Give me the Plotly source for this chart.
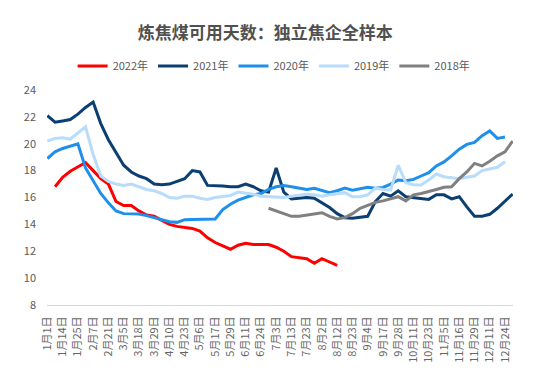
import plotly.graph_objects as go

tick_labels = ["1月1日", "1月14日", "1月25日", "2月7日", "2月21日", "3月5日", "3月18日", "3月29日",
               "4月10日", "4月23日", "5月6日", "5月17日", "5月29日", "6月11日", "6月24日", "7月3日",
               "7月13日", "7月23日", "8月2日", "8月12日", "8月23日", "9月4日", "9月17日", "9月28日",
               "10月11日", "10月23日", "11月5日", "11月16日", "11月29日", "12月11日", "12月24日"]

n_cat = 62
categories = list(range(n_cat))
tick_positions = list(range(0, 61, 2))

s2022 = [None, 16.8, 17.5, 17.95, 18.3, 18.6, 18.0, 17.4, 17.0, 15.7,
         15.4, 15.4, 15.0, 14.7, 14.6, 14.3, 14.0, 13.85, 13.8, 13.7,
         13.5, 13.0, 12.65, 12.4, 12.15, 12.45, 12.6, 12.5, 12.5, 12.5,
         12.3, 12.0, 11.6, 11.55, 11.45, 11.1, 11.45, 11.2, 10.95]
s2021 = [22.1, 21.6, 21.7, 21.8, 22.2, 22.7, 23.1, 21.5, 20.3, 19.4,
         18.4, 17.9, 17.6, 17.4, 17.0, 16.95, 17.0, 17.2, 17.4, 18.0,
         17.9, 16.9, 16.9, 16.85, 16.8, 16.8, 17.0, 16.8, 16.5, 16.4,
         18.2, 16.4, 15.9, 15.95, 16.0, 15.95, 15.6, 15.25, 14.8, 14.5,
         14.45, 14.5, 14.6, 15.7, 16.3, 16.1, 16.5, 16.06, 16.0, 15.95,
         15.86, 16.2, 16.2, 15.9, 16.06, 15.3, 14.6, 14.6, 14.75, 15.2,
         15.7, 16.26]
s2020 = [18.9, 19.4, 19.65, 19.85, 20.0, 18.2, 17.3, 16.3, 15.6, 15.0,
         14.8, 14.8, 14.77, 14.65, 14.5, 14.4, 14.2, 14.15, 14.35, 14.37,
         14.37, 14.37, 14.4, 15.1, 15.5, 15.8, 16.0, 16.2, 16.3, 16.6,
         16.8, 16.9, 16.8, 16.7, 16.6, 16.68, 16.5, 16.36, 16.5, 16.7,
         16.55, 16.65, 16.76, 16.68, 16.75, 17.0, 17.3, 17.25, 17.35, 17.6,
         17.85, 18.35, 18.65, 19.1, 19.6, 19.95, 20.1, 20.6, 20.95, 20.4,
         20.5]
s2019 = [20.2, 20.4, 20.45, 20.35, 20.8, 21.25, 19.2, 17.6, 17.2, 17.0,
         16.9, 17.0, 16.8, 16.6, 16.5, 16.3, 16.0, 15.95, 16.1, 16.1,
         15.95, 15.86, 16.0, 16.1, 16.15, 16.4, 16.35, 16.25, 16.1, 16.05,
         16.0, 16.0, 16.1, 16.2, 16.25, 16.2, 16.1, 16.2, 16.3, 16.36,
         16.06, 16.06, 16.2, 16.7, 16.6, 16.55, 18.4, 17.1, 16.95, 16.93,
         17.3, 17.75, 17.55, 17.45, 17.4, 17.5, 17.6, 18.0, 18.15, 18.25,
         18.66]
s2018 = [None] * 29 + [15.2, 15.0, 14.8, 14.6, 14.6, 14.7, 14.8, 14.87, 14.6, 14.4,
                       14.5, 14.8, 15.2, 15.45, 15.64, 15.75, 15.9, 16.06, 15.75, 16.2,
                       16.3, 16.43, 16.6, 16.76, 16.8, 17.4, 17.9, 18.54, 18.35, 18.7,
                       19.1, 19.4, 20.2]

series = [
    ("2022年", s2022, "#FF0000"),
    ("2021年", s2021, "#0B3F72"),
    ("2020年", s2020, "#1E8FEA"),
    ("2019年", s2019, "#B8DCFB"),
    ("2018年", s2018, "#808080"),
]

fig = go.Figure()
for name, vals, color in series:
    fig.add_trace(go.Scatter(
        x=categories[:len(vals)], y=vals, name=name, mode="lines",
        line=dict(color=color, width=3), connectgaps=False,
    ))

# the page body has an 8px default margin, so the figure is sized to fit inside it
font_family = "Noto Sans CJK SC, Noto Sans, sans-serif"
fig.update_layout(
    width=527, height=367,
    margin=dict(l=39, r=22, t=82, b=70, autoexpand=False),
    paper_bgcolor="white", plot_bgcolor="white",
    font=dict(family=font_family, color="#595959"),
    title=dict(text="<b>炼焦煤可用天数：独立焦企全样本</b>", x=0.488, xanchor="center",
               y=0.932, yanchor="middle", font=dict(size=17, color="#505050")),
    legend=dict(orientation="h", x=0.055, xanchor="left", y=1.112, yanchor="middle",
                font=dict(size=11, color="#595959"), itemwidth=30, tracegroupgap=0),
    showlegend=True,
)
fig.update_xaxes(
    range=[-0.05, 61.05], tickmode="array", tickvals=tick_positions, ticktext=tick_labels,
    tickangle=-90, tickfont=dict(size=11, color="#666666"), showgrid=False, zeroline=False,
    showline=True, linecolor="#D9D9D9", linewidth=1, ticks="", ticklabelstandoff=6,
)
fig.update_yaxes(
    range=[8, 24], dtick=2, tickfont=dict(size=11, color="#595959"), showgrid=False,
    zeroline=False, showline=False, ticks="", ticklabelstandoff=10,
)

fig.write_html("out.html")
